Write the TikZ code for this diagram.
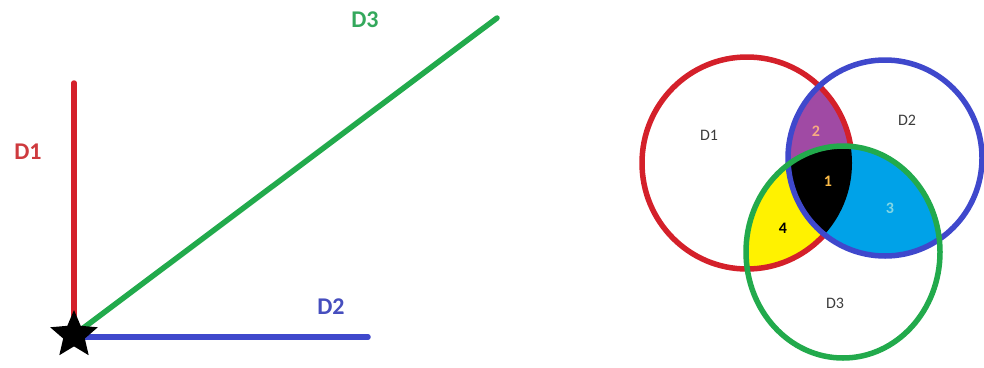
\documentclass[tikz,border=0pt]{standalone}
\usepackage{fontspec}
\setmainfont{Carlito}
\usetikzlibrary{positioning, shapes.geometric}

\definecolor{dred}{RGB}{212,32,42}
\definecolor{dblue}{RGB}{63,72,204}
\definecolor{dgreen}{RGB}{34,170,76}
\definecolor{lred}{RGB}{206,58,62}
\definecolor{lblue}{RGB}{70,78,190}
\definecolor{lgreen}{RGB}{52,168,92}
\definecolor{vpurple}{RGB}{160,74,164}
\definecolor{vcyan}{RGB}{0,162,232}
\definecolor{vyellow}{RGB}{255,242,0}
\definecolor{vgray}{RGB}{60,60,60}
\definecolor{numone}{RGB}{250,186,70}
\definecolor{numtwo}{RGB}{246,170,130}
\definecolor{numthree}{RGB}{130,214,228}

% the three sets of the Venn diagram
\newcommand{\setD}{(747,163) ellipse [x radius=105, y radius=106]}
\newcommand{\setE}{(885,158) ellipse [x radius=97, y radius=98]}
\newcommand{\setF}{(843,252) ellipse [x radius=97, y radius=106]}

\begin{document}
\begin{tikzpicture}[
  x=1pt, y=-1pt,
  axis/.style={line width=5.5pt, line cap=round},
  ring/.style={line width=5.5pt},
  startmark/.style={star, star points=5, star point ratio=2.2, fill=black, minimum size=50pt, inner sep=0pt},
  biglabel/.style={font=\fontsize{24}{24}\selectfont\bfseries, inner sep=0pt},
  venntext/.style={font=\fontsize{16}{16}\selectfont, text=vgray, inner sep=0pt},
  num/.style={font=\fontsize{16}{16}\selectfont\bfseries, inner sep=0pt}
]
\useasboundingbox (0,0) rectangle (984,367);

% directions
\coordinate (origin) at (74,335);
\coordinate (d1end) at (74,83);
\coordinate (d2end) at (368,337);
\coordinate (d3end) at (497,18);

\draw[axis, dred] (d1end) -- (origin);
\draw[axis, dgreen] (origin) -- (d3end);
\draw[axis, dblue] (origin |- d2end) -- (d2end);
\node[startmark] (starmark) at (origin) {};

\node[biglabel, text=lred] (labD1) at (28,152) {D1};
\node[biglabel, text=lblue] (labD2) at (331,307) {D2};
\node[biglabel, text=lgreen] (labD3) at (365,20) {D3};

% Venn diagram
\begin{scope} \clip \setD; \fill[vpurple] \setE; \end{scope}
\begin{scope} \clip \setD; \fill[vyellow] \setF; \end{scope}
\draw[ring, dred] \setD;
\begin{scope} \clip \setE; \fill[vcyan] \setF; \end{scope}
\begin{scope} \clip \setD; \clip \setE; \fill[black] \setF; \end{scope}
\draw[ring, dblue] \setE;
\draw[ring, dgreen] \setF;

\node[venntext] (vD1) at (709,135) {D1};
\node[venntext] (vD2) at (907,120) {D2};
\node[venntext] (vD3) at (835,303) {D3};
\node[num, text=numtwo] (n2) at (816,131) {2};
\node[num, text=numone] (n1) at (828,181) {1};
\node[num, text=numthree] (n3) at (890,208) {3};
\node[num, text=black] (n4) at (783,228) {4};

\end{tikzpicture}
\end{document}
